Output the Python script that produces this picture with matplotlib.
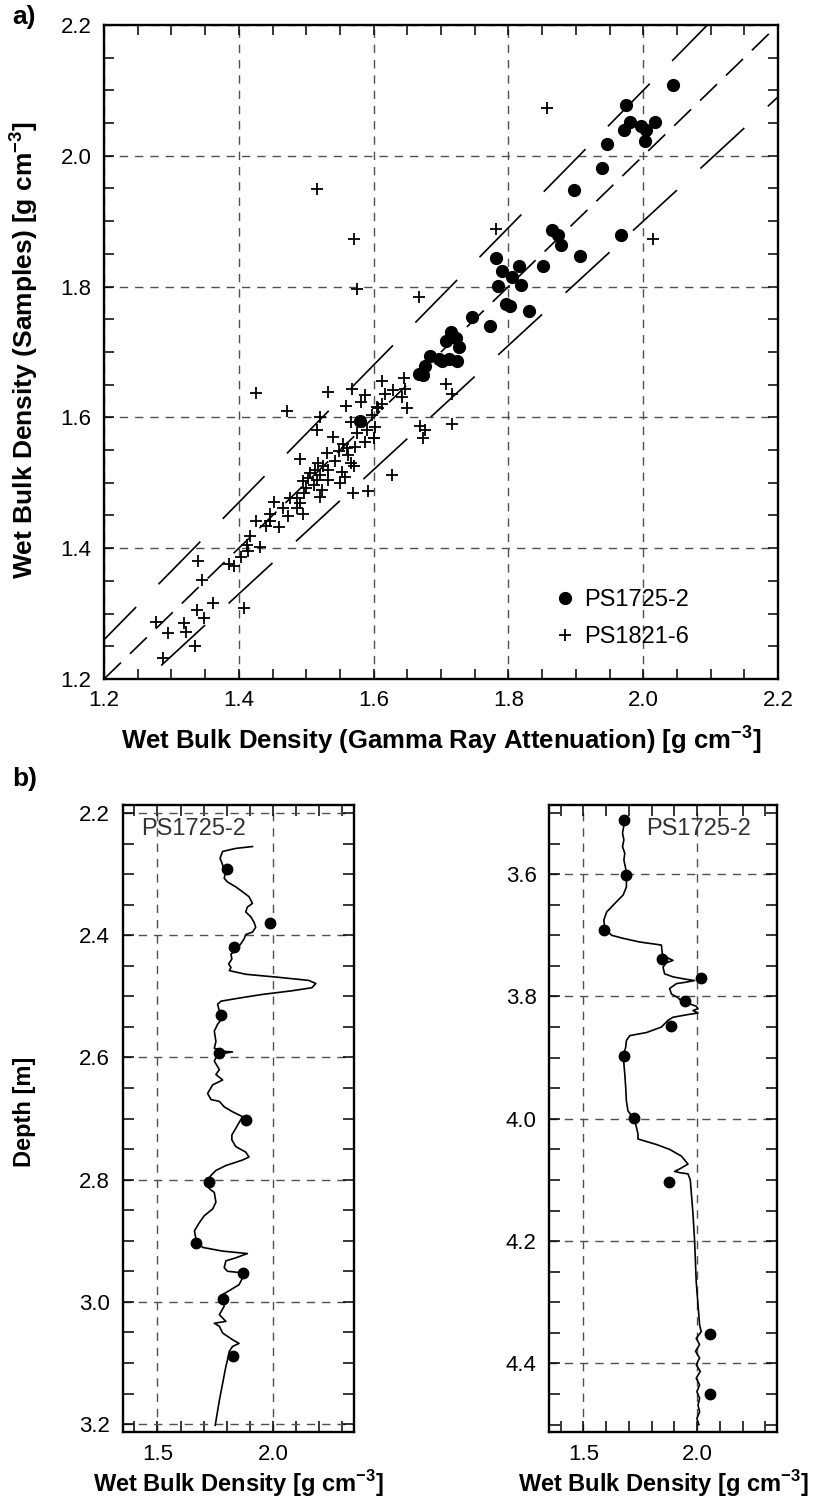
import matplotlib
matplotlib.use('Agg')
import numpy as np
import matplotlib.pyplot as plt
from matplotlib.ticker import MultipleLocator

plt.rcParams['font.family'] = ['Liberation Sans', 'DejaVu Sans']
plt.rcParams['mathtext.fontset'] = 'custom'
plt.rcParams['mathtext.rm'] = 'Liberation Sans'
plt.rcParams['mathtext.bf'] = 'Liberation Sans:bold'
plt.rcParams['lines.scale_dashes'] = False

# ---------------- data: panel a ----------------
ps1725_gra = [2.044, 1.975, 1.980, 1.972, 1.996, 2.004, 2.017, 2.003, 1.946, 1.939,
              1.898, 1.864, 1.873, 1.878, 1.967, 1.906, 1.851, 1.781, 1.791, 1.815,
              1.806, 1.784, 1.819, 1.797, 1.803, 1.830, 1.746, 1.772, 1.715, 1.707,
              1.722, 1.726, 1.684, 1.697, 1.701, 1.712, 1.724, 1.676, 1.668, 1.673, 1.580]
ps1725_sam = [2.109, 2.078, 2.052, 2.039, 2.046, 2.039, 2.052, 2.023, 2.018, 1.981,
              1.948, 1.887, 1.879, 1.863, 1.879, 1.847, 1.831, 1.843, 1.824, 1.832,
              1.815, 1.801, 1.803, 1.773, 1.770, 1.762, 1.754, 1.740, 1.731, 1.717,
              1.722, 1.707, 1.694, 1.689, 1.687, 1.689, 1.686, 1.678, 1.666, 1.665, 1.595]

ps1821_gra = [1.339, 1.346, 1.407, 1.338, 1.362, 1.349, 1.318, 1.321, 1.295, 1.277, 1.335, 1.288,
              1.471, 1.520, 1.559, 1.582, 1.607, 1.649, 1.516, 1.540, 1.566, 1.590, 1.575, 1.601,
              1.587, 1.555, 1.560, 1.572, 1.548, 1.531, 1.562, 1.491, 1.566, 1.571, 1.518, 1.525,
              1.513, 1.533, 1.506, 1.520, 1.502, 1.516, 1.553, 1.558, 1.550, 1.533, 1.495, 1.511,
              1.523, 1.500, 1.496, 1.520, 1.486, 1.476, 1.452, 1.491, 1.466, 1.486, 1.446, 1.473,
              1.495, 1.426, 1.446, 1.459, 1.441, 1.417, 1.412, 1.432, 1.414, 1.403, 1.385, 1.393,
              1.569, 1.592, 1.628, 1.543,
              1.668, 1.612, 1.645, 1.568, 1.533, 1.587, 1.617, 1.629, 1.647, 1.642, 1.708, 1.717,
              1.716, 1.669, 1.676, 1.674, 1.605, 1.612, 1.597, 1.602, 1.600,
              1.857, 1.516, 1.571, 1.575, 1.782, 2.014, 1.426]
ps1821_sam = [1.381, 1.352, 1.308, 1.306, 1.316, 1.293, 1.285, 1.272, 1.271, 1.287, 1.251, 1.232,
              1.610, 1.601, 1.617, 1.624, 1.614, 1.614, 1.581, 1.570, 1.593, 1.581, 1.576, 1.568,
              1.563, 1.560, 1.553, 1.555, 1.548, 1.546, 1.543, 1.536, 1.531, 1.526, 1.530, 1.525,
              1.520, 1.520, 1.515, 1.512, 1.507, 1.504, 1.517, 1.509, 1.499, 1.504, 1.502, 1.497,
              1.489, 1.492, 1.484, 1.479, 1.476, 1.476, 1.471, 1.469, 1.461, 1.461, 1.453, 1.449,
              1.453, 1.442, 1.442, 1.432, 1.434, 1.419, 1.405, 1.402, 1.395, 1.387, 1.376, 1.373,
              1.485, 1.488, 1.512, 1.533,
              1.784, 1.655, 1.660, 1.644, 1.639, 1.634, 1.636, 1.642, 1.644, 1.631, 1.651, 1.636,
              1.590, 1.587, 1.580, 1.568, 1.616, 1.620, 1.604, 1.586, 1.569,
              2.073, 1.949, 1.873, 1.796, 1.888, 1.873, 1.638]

ref_range = [1.2, 2.2]
band_factors = [0.95, 1.05]

# ---------------- data: panel b, left (2.2-3.2 m) ----------------
core1_dens = [1.911, 1.839, 1.782, 1.771, 1.782, 1.793, 1.789, 1.803, 1.839, 1.868, 1.896, 1.911,
              1.889, 1.882, 1.904, 1.918, 1.925, 1.911, 1.882, 1.875, 1.861, 1.839, 1.818, 1.822,
              1.808, 1.818, 1.811, 1.882, 2.025, 2.154, 2.185, 2.168, 2.082, 1.953, 1.853, 1.775,
              1.760, 1.768, 1.782, 1.760, 1.746, 1.753, 1.746, 1.782, 1.825, 1.760, 1.746, 1.768,
              1.753, 1.782, 1.739, 1.717, 1.732, 1.768, 1.789, 1.825, 1.868, 1.839, 1.822,
              1.822, 1.839, 1.882, 1.896, 1.868, 1.796, 1.753, 1.732, 1.711, 1.725, 1.746, 1.753,
              1.739, 1.703, 1.682, 1.660, 1.668, 1.696, 1.782, 1.889, 1.839, 1.796, 1.789, 1.803,
              1.853, 1.868, 1.853, 1.818, 1.782, 1.782, 1.789, 1.768, 1.796, 1.746, 1.768, 1.782,
              1.825, 1.853, 1.825, 1.811, 1.803, 1.796, 1.768, 1.750]
core1_depth = [2.255, 2.258, 2.263, 2.274, 2.285, 2.299, 2.307, 2.313, 2.321, 2.329, 2.337, 2.348,
               2.354, 2.362, 2.370, 2.379, 2.387, 2.395, 2.399, 2.406, 2.414, 2.425, 2.431, 2.439,
               2.447, 2.453, 2.458, 2.464, 2.469, 2.474, 2.479, 2.486, 2.491, 2.497, 2.503, 2.508,
               2.513, 2.524, 2.535, 2.546, 2.557, 2.574, 2.585, 2.590, 2.591, 2.595, 2.606, 2.620,
               2.628, 2.637, 2.645, 2.659, 2.669, 2.672, 2.681, 2.689, 2.697, 2.716, 2.727,
               2.735, 2.746, 2.755, 2.763, 2.768, 2.777, 2.785, 2.793, 2.804, 2.815, 2.821, 2.837,
               2.848, 2.859, 2.870, 2.884, 2.900, 2.911, 2.917, 2.921, 2.928, 2.933, 2.944, 2.950,
               2.952, 2.961, 2.972, 2.980, 2.988, 2.996, 3.007, 3.021, 3.032, 3.035, 3.040, 3.051,
               3.062, 3.068, 3.073, 3.081, 3.095, 3.106, 3.161, 3.202]
samp1_dens = [1.803, 1.985, 1.832, 1.775, 1.765, 1.882, 1.725, 1.668, 1.868, 1.782, 1.825]
samp1_depth = [2.291, 2.380, 2.420, 2.531, 2.593, 2.702, 2.804, 2.903, 2.952, 2.995, 3.089]

# ---------------- data: panel b, right (3.5-4.5 m) ----------------
core2_dens = [1.678, 1.672, 1.678, 1.672, 1.682, 1.678, 1.686, 1.689, 1.689, 1.675, 1.638, 1.602,
              1.590, 1.594, 1.624, 1.675, 1.748, 1.806, 1.843, 1.847, 1.865, 1.894, 1.865, 1.850,
              1.857, 1.894, 1.953, 1.989, 1.945, 1.909, 1.879, 1.887, 1.916, 1.931, 1.967, 1.996,
              2.004, 1.982, 2.004, 1.953, 1.894, 1.872, 1.843, 1.777, 1.704, 1.689, 1.686, 1.675,
              1.678, 1.682, 1.686, 1.689, 1.696, 1.718, 1.730, 1.740,
              1.740, 1.821, 1.879, 1.931, 1.960, 1.923, 1.901, 1.923, 1.960, 1.970, 1.982, 1.989,
              1.996, 2.004, 2.011, 2.018, 1.996, 2.011, 1.993, 2.011, 1.996, 2.014, 1.996, 2.011,
              1.999, 2.011, 2.004, 2.011, 1.999, 2.008]
core2_depth = [3.520, 3.533, 3.544, 3.555, 3.566, 3.577, 3.591, 3.604, 3.621, 3.634, 3.648, 3.662,
               3.675, 3.689, 3.700, 3.705, 3.711, 3.714, 3.716, 3.730, 3.736, 3.741, 3.745, 3.752,
               3.763, 3.768, 3.772, 3.774, 3.777, 3.779, 3.787, 3.796, 3.802, 3.808, 3.812, 3.816,
               3.820, 3.823, 3.827, 3.830, 3.834, 3.839, 3.850, 3.859, 3.864, 3.872, 3.883, 3.897,
               3.910, 3.927, 3.949, 3.971, 3.987, 3.998, 4.009, 4.025,
               4.033, 4.042, 4.050, 4.061, 4.074, 4.082, 4.086, 4.088, 4.090, 4.100, 4.156, 4.200,
               4.266, 4.304, 4.337, 4.348, 4.359, 4.369, 4.380, 4.391, 4.402, 4.413, 4.424, 4.435,
               4.446, 4.457, 4.468, 4.479, 4.490, 4.500]
samp2_dens = [1.678, 1.686, 1.591, 1.844, 2.018, 1.948, 1.884, 1.678, 1.721, 1.875, 2.055, 2.055]
samp2_depth = [3.511, 3.602, 3.692, 3.739, 3.770, 3.808, 3.849, 3.897, 3.999, 4.104, 4.352, 4.450]

# ---------------- figure ----------------
W, H = 830, 1507
fig = plt.figure(figsize=(W / 100, H / 100), dpi=100)


def rect(x0, y0, x1, y1):
    return [x0 / W, 1 - y1 / H, (x1 - x0) / W, (y1 - y0) / H]


GRID = dict(color='#505050', linestyle=(0, (6, 5)), linewidth=1.0)
TICKS = dict(which='both', direction='in', top=True, right=True, width=1.1,
             labelsize=16, colors='black')


def style_frame(a):
    for s in a.spines.values():
        s.set_linewidth(1.7)


# ---- panel a ----
ax = fig.add_axes(rect(104, 25, 778, 679))
ax.set_xlim(1.2, 2.2)
ax.set_ylim(1.2, 2.2)
ax.xaxis.set_major_locator(MultipleLocator(0.2))
ax.yaxis.set_major_locator(MultipleLocator(0.2))
ax.xaxis.set_minor_locator(MultipleLocator(0.05))
ax.yaxis.set_minor_locator(MultipleLocator(0.05))
ax.xaxis.set_major_formatter(lambda v, p: f'{v:.1f}')
ax.yaxis.set_major_formatter(lambda v, p: f'{v:.1f}')
ax.tick_params(length=7, **TICKS)
ax.tick_params(axis='x', pad=8)
ax.tick_params(axis='y', pad=9)
ax.grid(True, which='major', **GRID)
style_frame(ax)

ref = np.array(ref_range)
ax.plot(ref, ref, color='black', lw=1.2, linestyle=(0, (17, 9)))
for f in band_factors:
    ax.plot(ref, ref * f, color='black', lw=1.2, linestyle=(10, (43, 23)))

ax.plot(ps1725_gra, ps1725_sam, 'o', color='black', ms=8.5, ls='none', label='PS1725-2', zorder=3)
ax.plot(ps1821_gra, ps1821_sam, '+', color='black', ms=9, mew=1.3, ls='none', label='PS1821-6', zorder=3)
ax.legend(loc='upper left', bbox_to_anchor=(0.668, 0.137), frameon=False, fontsize=17,
          handlelength=0.9, handletextpad=0.35, labelspacing=0.62, borderpad=0, borderaxespad=0)

fig.text(441 / W, 1 - 740 / H, r'Wet Bulk Density (Gamma Ray Attenuation) [g cm$^{\mathbf{-3}}$]',
         ha='center', va='center', fontsize=18.5, fontweight='bold')
fig.text(24 / W, 1 - 350 / H, r'Wet Bulk Density (Samples) [g cm$^{\mathbf{-3}}$]',
         ha='center', va='center', rotation=90, fontsize=19, fontweight='bold')
fig.text(12 / W, 1 - 17 / H, 'a)', ha='left', va='center', fontsize=19, fontweight='bold')
fig.text(12 / W, 1 - 779 / H, 'b)', ha='left', va='center', fontsize=19, fontweight='bold')


# ---- panel b ----
def depth_panel(r, dens, depth, sdens, sdepth, ylim, text_x=0.08):
    a = fig.add_axes(r)
    a.set_xlim(1.35, 2.35)
    a.set_ylim(*ylim)
    a.xaxis.set_major_locator(MultipleLocator(0.5))
    a.xaxis.set_minor_locator(MultipleLocator(0.1))
    a.yaxis.set_major_locator(MultipleLocator(0.2))
    a.yaxis.set_minor_locator(MultipleLocator(0.05))
    a.xaxis.set_major_formatter(lambda v, p: f'{v:.1f}')
    a.yaxis.set_major_formatter(lambda v, p: f'{v:.1f}')
    a.tick_params(length=8, **TICKS)
    a.tick_params(axis='x', pad=9)
    a.tick_params(axis='y', pad=9)
    a.grid(True, which='major', **GRID)
    style_frame(a)
    a.plot(dens, depth, color='black', lw=1.2)
    a.plot(sdens, sdepth, 'o', color='black', ms=7.5, ls='none', zorder=3)
    a.text(text_x, 0.962, 'PS1725-2', transform=a.transAxes, ha='left', va='center',
           fontsize=17, color='#333333')
    return a


axl = depth_panel(rect(122.7, 805, 354, 1432), core1_dens, core1_depth, samp1_dens, samp1_depth,
                  (3.213, 2.187), text_x=0.08)
axr = depth_panel(rect(549.3, 805, 776.7, 1432), core2_dens, core2_depth, samp2_dens, samp2_depth,
                  (4.512, 3.487), text_x=0.425)

for a in (axl, axr):
    bb = a.get_position()
    fig.text((bb.x0 + bb.x1) / 2, 1 - 1484 / H, r'Wet Bulk Density [g cm$^{\mathbf{-3}}$]',
             ha='center', va='center', fontsize=17, fontweight='bold')
fig.text(24 / W, 1 - 1112 / H, 'Depth [m]', ha='center', va='center', rotation=90,
         fontsize=17, fontweight='bold')

fig.savefig('out.png', dpi=100)
